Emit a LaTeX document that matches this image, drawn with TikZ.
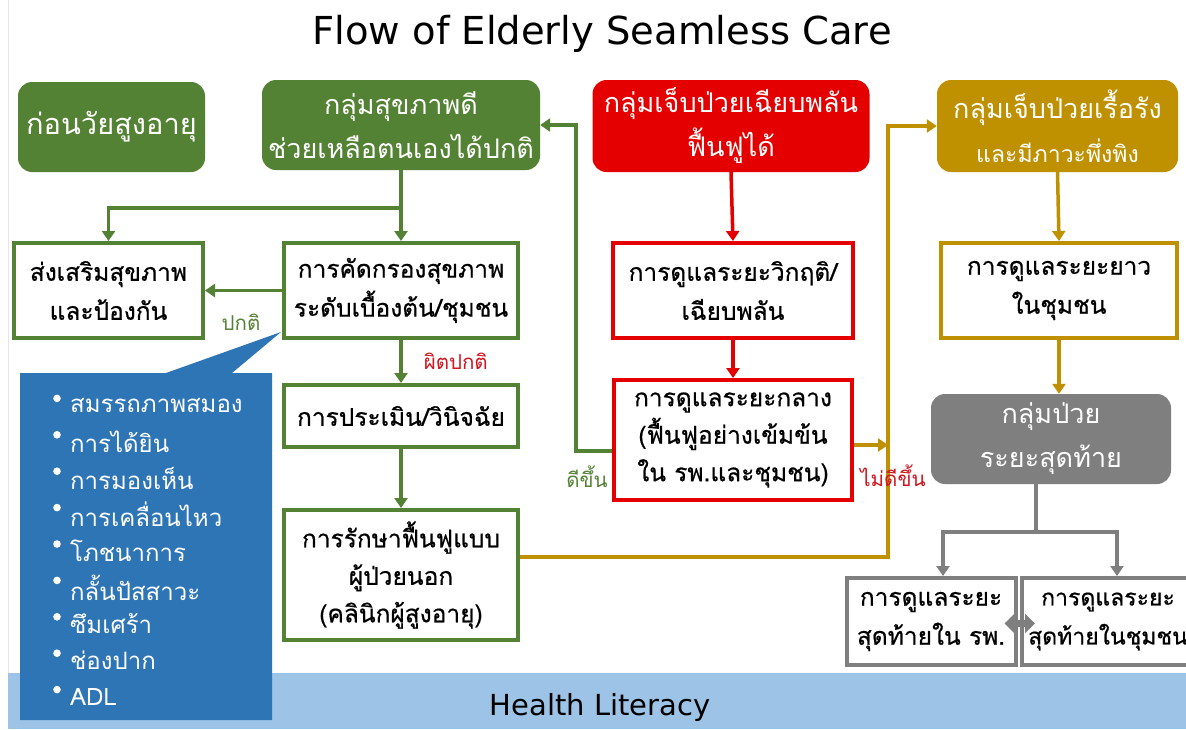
\documentclass[tikz,border=0pt]{standalone}
\usepackage{fontspec}
\setmainfont{DejaVu Sans}
\newfontfamily\thai[Script=Thai]{Loma}
\newfontfamily\thaiheavy[Script=Thai,FakeBold=0.6]{Loma}
\usetikzlibrary{arrows.meta,calc}

\definecolor{leafgreen}{RGB}{84,130,53}
\definecolor{alarmred}{RGB}{228,0,0}
\definecolor{ochre}{RGB}{191,144,0}
\definecolor{slate}{RGB}{127,127,127}
\definecolor{callblue}{RGB}{46,117,182}
\definecolor{bandblue}{RGB}{157,195,230}
\definecolor{labelred}{RGB}{210,20,30}

\begin{document}
\begin{tikzpicture}[x=1pt,y=-1pt,
	group/.style={rounded corners=14pt, text=white, align=center, inner sep=0pt,
		font=\thai\fontsize{27}{44}\selectfont},
	carebox/.style={draw, fill=white, line width=4pt, align=center, inner sep=0pt,
		font=\thaiheavy\fontsize{24.5}{39}\selectfont},
	link/.style={line width=3.5pt, -{Triangle[width=13pt,length=10pt]}},
	tag/.style={font=\thai\fontsize{20.5}{22}\selectfont, inner sep=1pt}]
	\fill[white] (0,0) rectangle (1186,729);
	\useasboundingbox (0,0) rectangle (1186,729);
	\draw[black!10, line width=1pt] (8,0) -- (8,673);
	% health literacy band
	\fill[bandblue] (8,673) rectangle (1186,729);
	\node[font=\fontsize{29}{32}\selectfont] (literacy) at (600,707) {Health Literacy};
	\node[font=\fontsize{38.5}{42}\selectfont] (title) at (602,34) {Flow of Elderly Seamless Care};

	% group headers
	\node[group, fill=leafgreen, minimum width=187pt, minimum height=90pt,
		font=\thai\fontsize{29}{30}\selectfont] (pre) at (111.5,127) {ก่อนวัยสูงอายุ};
	\node[group, fill=leafgreen, minimum width=278pt, minimum height=90pt] (good) at (401,125)
		{กลุ่มสุขภาพดี\\ช่วยเหลือตนเองได้ปกติ};
	\node[group, fill=alarmred, minimum width=277pt, minimum height=92pt] (acute) at (731,126)
		{กลุ่มเจ็บป่วยเฉียบพลัน\\ฟื้นฟูได้};
	\node[group, fill=ochre, minimum width=241pt, minimum height=92pt] (chronic) at (1057.5,126)
		{กลุ่มเจ็บป่วยเรื้อรัง\\{\fontsize{23}{44}\selectfont และมีภาวะพึ่งพิง}};
	\node[group, fill=slate, minimum width=240pt, minimum height=90pt] (terminal) at (1051,439)
		{กลุ่มป่วย\\ระยะสุดท้าย};

	% care steps
	\node[carebox, draw=leafgreen, minimum width=189pt, minimum height=95pt] (promo) at (108.5,290.5)
		{ส่งเสริมสุขภาพ\\และป้องกัน};
	\node[carebox, draw=leafgreen, minimum width=234pt, minimum height=95pt] (screen) at (401,290.5)
		{การคัดกรองสุขภาพ\\ระดับเบื้องต้น/ชุมชน};
	\node[carebox, draw=leafgreen, minimum width=234pt, minimum height=62pt] (assess) at (401,416)
		{การประเมิน/วินิจฉัย};
	\node[carebox, draw=leafgreen, minimum width=234pt, minimum height=130pt,
		font=\thaiheavy\fontsize{24.5}{37.5}\selectfont] (opd) at (401,575)
		{การรักษาฟื้นฟูแบบ\\ผู้ป่วยนอก\\(คลินิกผู้สูงอายุ)};
	\node[carebox, draw=alarmred, minimum width=240pt, minimum height=95pt] (crisis) at (733,290.5)
		{การดูแลระยะวิกฤติ/\\เฉียบพลัน};
	\node[carebox, draw=alarmred, minimum width=238pt, minimum height=120pt,
		font=\thaiheavy\fontsize{24.5}{37.5}\selectfont] (inter) at (733,440)
		{การดูแลระยะกลาง\\(ฟื้นฟูอย่างเข้มข้น\\ใน รพ.และชุมชน)};
	\node[carebox, draw=ochre, minimum width=236pt, minimum height=95pt] (longterm) at (1059,290.5)
		{การดูแลระยะยาว\\ในชุมชน};
	\node[carebox, draw=slate, minimum width=169pt, minimum height=87pt] (hosp) at (931,621.5)
		{การดูแลระยะ\\สุดท้ายใน รพ.};
	\node[carebox, draw=slate, minimum width=168pt, minimum height=87pt,
		font=\thaiheavy\fontsize{23}{39}\selectfont] (comm) at (1106,621.5)
		{\hspace*{4pt}การดูแลระยะ\\\hspace*{4pt}สุดท้ายในชุมชน};

	% bends of the long connectors
	\coordinate (fork) at (401,208);
	\coordinate (greenbus) at (576,300);
	\coordinate (ochrebus) at (888,400);
	\coordinate (split) at (1036,532);
	\coordinate (interin) at ([yshift=-11pt]inter.west);
	\coordinate (interout) at ([yshift=-5pt]inter.east);
	\coordinate (opdout) at ([yshift=18pt]opd.east);

	% green flow
	\draw[link, leafgreen] (good.south) -- (screen.north);
	\draw[link, leafgreen] (fork) -| (promo.north);
	\draw[link, leafgreen] (screen.west) -- (promo.east);
	\draw[link, leafgreen] (screen.south) -- (assess.north)
		node[tag, midway, right=20pt, text=labelred] (abnormal) {ผิตปกติ};
	\draw[link, leafgreen] (assess.south) -- (opd.north);
	\draw[link, leafgreen] (interin) -| (greenbus) |- (good.east);
	\node[tag, text=leafgreen] (normal) at (241,322) {ปกติ};
	\node[tag, text=leafgreen] (better) at (587,477) {ดีขึ้น};

	% red flow
	\draw[link, alarmred] (acute.south) -- (crisis.north);
	\draw[link, alarmred] (crisis.south) -- (inter.north);

	% ochre flow
	\draw[link, ochre] (opdout) -| (ochrebus) |- (chronic.west);
	\draw[link, ochre] (interout) -- (interout -| ochrebus);
	\draw[link, ochre] (chronic.south) -- (longterm.north);
	\draw[link, ochre] (longterm.south) -- (longterm.south |- terminal.north);
	\node[tag, text=labelred] (worse) at (893,476) {ไม่ดีขึ้น};

	% end of life
	\draw[line width=3.5pt, slate] (split |- terminal.south) -- (split);
	\draw[link, slate] (split) -| ([xshift=12pt]hosp.north);
	\draw[link, slate] (split) -| ([xshift=11pt]comm.north);
	\draw[slate, line width=7pt, {Triangle[width=19pt,length=10pt]}-{Triangle[width=19pt,length=10pt]}]
		([shift={(-13pt,-2pt)}]hosp.east) -- ([shift={(15pt,-2pt)}]comm.west);

	% screening checklist callout
	\fill[callblue] (20,373) -- (166,373) -- (281,332) -- (232,373) -- (272,373)
		-- (272,720) -- (20,720) -- cycle;
	\foreach \topic [count=\i] in {สมรรถภาพสมอง, การได้ยิน, การมองเห็น, การเคลื่อนไหว,
		โภชนาการ, กลั้นปัสสาวะ, ซึมเศร้า, ช่องปาก, ADL}{
		\fill[white] (57,{362+36.4*\i}) circle (3.8pt);
		\node[anchor=west, text=white, inner sep=0pt, font=\thai\fontsize{24}{26}\selectfont]
			(topic\i) at (70,{369+36.4*\i}) {\topic};
	}
\end{tikzpicture}
\end{document}
